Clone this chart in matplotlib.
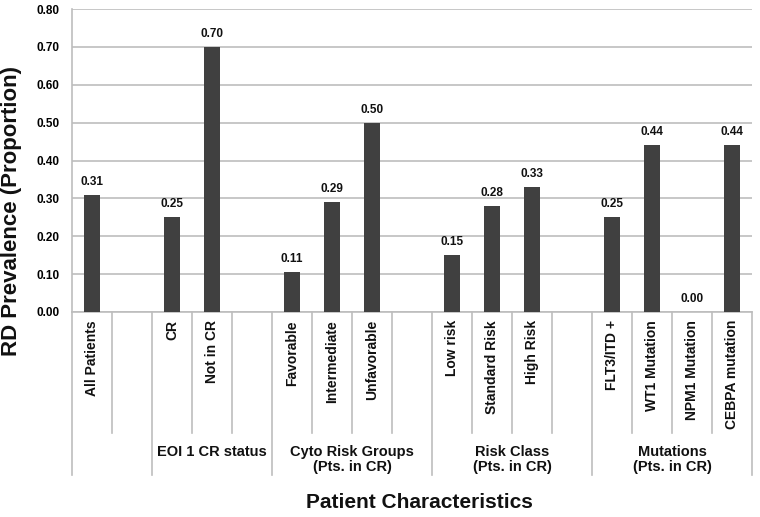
import matplotlib
matplotlib.use("Agg")
import matplotlib.pyplot as plt
from matplotlib.transforms import blended_transform_factory

plt.rcParams['font.family'] = ['Liberation Sans', 'DejaVu Sans']
plt.rcParams['font.weight'] = 'bold'

categories = ["All Patients", "", "CR", "Not in CR", "", "Favorable", "Intermediate",
              "Unfavorable", "", "Low risk", "Standard Risk", "High Risk", "",
              "FLT3/ITD +", "WT1 Mutation", "NPM1 Mutation", "CEBPA mutation"]
values = [0.31, None, 0.25, 0.70, None, 0.105, 0.29, 0.50, None,
          0.15, 0.28, 0.33, None, 0.25, 0.44, 0.00, 0.44]
value_labels = ["0.31", "", "0.25", "0.70", "", "0.11", "0.29", "0.50", "",
                "0.15", "0.28", "0.33", "", "0.25", "0.44", "0.00", "0.44"]
group_names = ["", "EOI 1 CR status", "Cyto Risk Groups\n(Pts. in CR)",
               "Risk Class\n(Pts. in CR)", "Mutations\n(Pts. in CR)"]
group_starts = [0, 2, 5, 9, 13]
group_ends = [2, 5, 9, 13, 17]
yticks = [0.0, 0.1, 0.2, 0.3, 0.4, 0.5, 0.6, 0.7, 0.8]

W, H = 760, 517
fig = plt.figure(figsize=(W / 100, H / 100), dpi=100)
ax_left, ax_right, ax_top, ax_bottom = 72, 752, 9, 312
ax = fig.add_axes([ax_left / W, (H - ax_bottom) / H,
                   (ax_right - ax_left) / W, (ax_bottom - ax_top) / H])

grid_color = "#bdbdbd"
bar_color = "#404040"

xs = [i for i, v in enumerate(values) if v is not None]
vs = [v for v in values if v is not None]
ax.bar(xs, vs, width=0.42, color=bar_color, zorder=3)
for i, v in enumerate(values):
    if v is not None:
        ax.annotate(value_labels[i], (i, v), xytext=(0, 5), textcoords="offset points",
                    ha="center", va="bottom", fontsize=8.5, fontweight="bold", color="#111111")

ax.set_xlim(-0.5, len(categories) - 0.5)
ax.set_ylim(0, 0.8)
ax.set_yticks(yticks)
ax.set_yticklabels([f"{t:.2f}" for t in yticks], fontsize=8.5, fontweight="bold")
ax.tick_params(axis="y", length=0, pad=9)
ax.set_xticks([])
ax.grid(axis="y", color=grid_color, linewidth=1.2, zorder=0)
for s in ["top", "right"]:
    ax.spines[s].set_visible(False)
ax.spines["left"].set_color(grid_color)
ax.spines["bottom"].set_color(grid_color)
ax.spines["left"].set_linewidth(1.2)
ax.spines["bottom"].set_linewidth(1.2)

axh = ax_bottom - ax_top
def yfrac(py):
    return -(py - ax_bottom) / axh

trans = blended_transform_factory(ax.transData, ax.transAxes)
boundaries_long = set(group_starts) | {group_ends[-1]}
for k in range(len(categories) + 1):
    y_end = yfrac(475) if k in boundaries_long else yfrac(433)
    ax.plot([k - 0.5, k - 0.5], [0, y_end], transform=trans, color=grid_color,
            linewidth=1.2, clip_on=False)

for i, c in enumerate(categories):
    if c:
        ax.text(i, yfrac(320), c, transform=trans, rotation=90, ha="center", va="top",
                fontsize=10, fontweight="bold", color="#111111")

for name, s, e in zip(group_names, group_starts, group_ends):
    if name:
        ax.text((s + e - 1) / 2, yfrac(445), name, transform=trans, ha="center", va="top",
                fontsize=10.5, fontweight="bold", color="#111111", linespacing=1.1)

fig.text(12 / W, 1 - 211 / H, "RD Prevalence (Proportion)", rotation=90, ha="center",
         va="center", fontsize=16, fontweight="bold", color="#111111")
fig.text(419 / W, 1 - 502 / H, "Patient Characteristics", ha="center", va="center",
         fontsize=15, fontweight="bold", color="#111111")

fig.savefig("out.png", dpi=100)
